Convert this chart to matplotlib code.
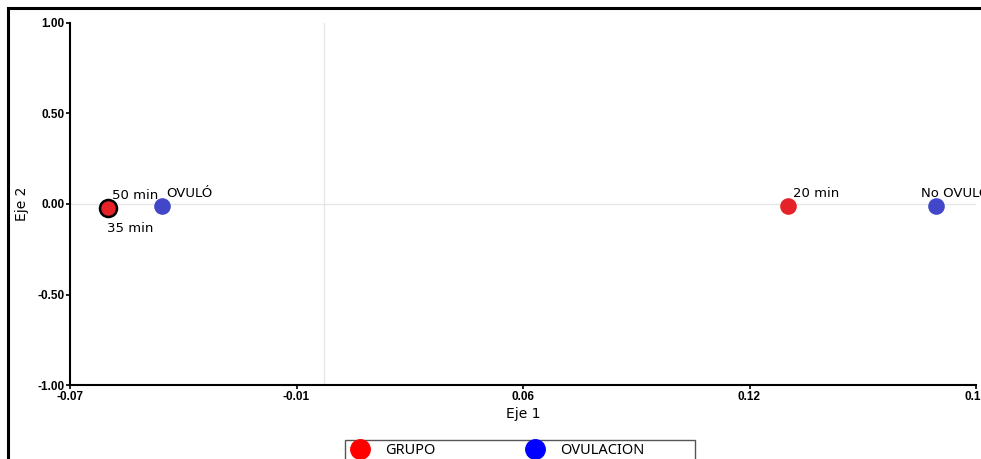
import matplotlib.pyplot as plt
from matplotlib.lines import Line2D
from matplotlib.patches import Rectangle

plt.rcParams['font.family'] = ['Liberation Sans', 'DejaVu Sans']

# points: label, x, y, group
grupo_labels = ["50 min", "35 min", "20 min"]
grupo_x = [-0.0595, -0.0595, 0.128]
grupo_y = [-0.02, -0.02, -0.01]

ovul_labels = ["OVULÓ", "No OVULÓ"]
ovul_x = [-0.0445, 0.169]
ovul_y = [-0.01, -0.01]

x_ticks = [-0.07, -0.0075, 0.055, 0.1175, 0.18]
x_tick_labels = ["-0.07", "-0.01", "0.06", "0.12", "0.18"]
y_ticks = [-1.0, -0.5, 0.0, 0.5, 1.0]
y_tick_labels = ["-1.00", "-0.50", "0.00", "0.50", "1.00"]

W, H = 981, 459
fig = plt.figure(figsize=(W / 100, H / 100), dpi=100)
ax = fig.add_axes([70 / W, (H - 385) / H, (976 - 70) / W, (385 - 23) / H])

# light reference lines through the origin
ax.axhline(0, color='#e6e6e6', lw=1, zorder=0)
ax.axvline(0, color='#e6e6e6', lw=1, zorder=0)

red = '#e42228'
blue = '#4147c8'
ax.scatter(grupo_x[0], grupo_y[0], s=120, color=red, zorder=3)
ax.scatter(grupo_x[1], grupo_y[1], s=150, color=red, edgecolors='black', linewidths=1.8, zorder=4)
ax.scatter(grupo_x[2], grupo_y[2], s=120, color=red, zorder=3)
ax.scatter(ovul_x, ovul_y, s=120, color=blue, zorder=3)

fs = 9.5
txt = dict(textcoords='offset points', fontsize=fs, ha='left', family=['DejaVu Sans'])
ax.annotate(grupo_labels[0], (grupo_x[0], grupo_y[0]), xytext=(3, 4), va='bottom', **txt)
ax.annotate(grupo_labels[1], (grupo_x[1], grupo_y[1]), xytext=(-1, -10), va='top', **txt)
ax.annotate(grupo_labels[2], (grupo_x[2], grupo_y[2]), xytext=(4, 4), va='bottom', **txt)
ax.annotate(ovul_labels[0], (ovul_x[0], ovul_y[0]), xytext=(3, 4), va='bottom', **txt)
ax.annotate(ovul_labels[1], (ovul_x[1], ovul_y[1]), xytext=(-11, 4), va='bottom',
            annotation_clip=False, **txt)

ax.set_xlim(-0.07, 0.18)
ax.set_ylim(-1.0, 1.0)
ax.set_xticks(x_ticks)
ax.set_xticklabels(x_tick_labels, fontsize=8.5, fontweight='bold')
ax.set_yticks(y_ticks)
ax.set_yticklabels(y_tick_labels, fontsize=8.5, fontweight='bold')
ax.tick_params(length=3, width=1.2, pad=1)
for side in ['top', 'right']:
    ax.spines[side].set_visible(False)
for side in ['left', 'bottom']:
    ax.spines[side].set_linewidth(1.5)
ax.set_xlabel("Eje 1", fontsize=10, labelpad=3, family=['DejaVu Sans'])
ax.set_ylabel("Eje 2", fontsize=10, labelpad=6, family=['DejaVu Sans'])

handles = [
    Line2D([], [], marker='o', ls='', markersize=14, color='#ff0000'),
    Line2D([], [], marker='o', ls='', markersize=14, color='#0000ff'),
]
fig.legend(handles, ["GRUPO", "OVULACION"], loc='upper left', bbox_to_anchor=(345 / W, 1 - 439 / H),
           ncol=2, frameon=False, columnspacing=6.1, handlelength=1.4, handletextpad=1.05,
           borderpad=0.3, borderaxespad=0,
           prop={'family': ['Noto Sans', 'DejaVu Sans'], 'size': 10.5})
# legend box, wider than its entries as in the original
fig.patches.append(Rectangle((345 / W, -0.05), 350 / W, 1 - 440 / H + 0.05, transform=fig.transFigure,
                             fill=False, edgecolor='#555555', lw=1))

# outer frame of the screenshot
fig.patches.append(Rectangle((8 / W, -0.1), 1.2, 1 - 8 / H + 0.1, transform=fig.transFigure,
                             fill=False, edgecolor='black', lw=2.2))

fig.savefig("out.png", dpi=100)
